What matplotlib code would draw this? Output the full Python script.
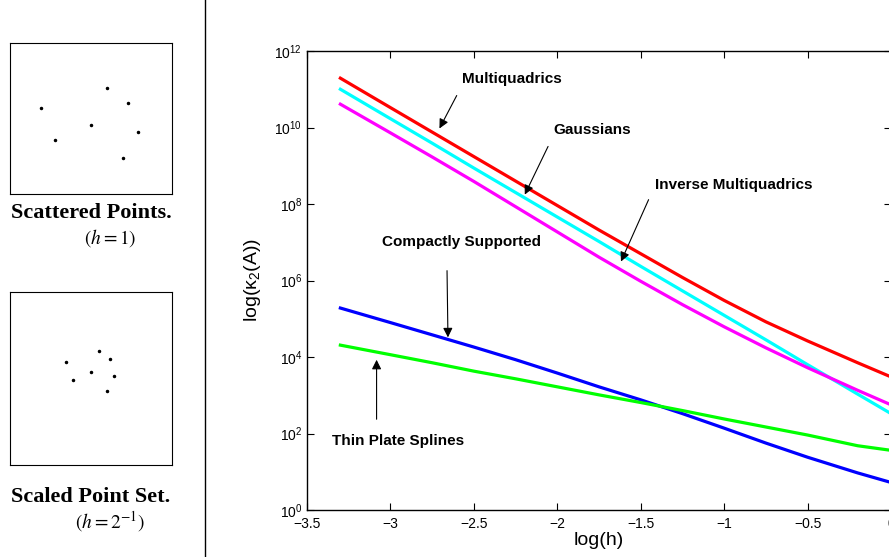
import numpy as np
import matplotlib
matplotlib.use('Agg')
import matplotlib.pyplot as plt
from matplotlib.lines import Line2D

plt.rcParams['font.family'] = ['Liberation Sans', 'DejaVu Sans']
plt.rcParams['mathtext.fontset'] = 'custom'
plt.rcParams['mathtext.rm'] = 'Liberation Sans'
plt.rcParams['mathtext.it'] = 'Liberation Sans:italic'

# log(h) sample positions and log10 of the condition numbers
log_h = [-3.3, -3.0, -2.75, -2.5, -2.25, -2.0, -1.75, -1.5, -1.25, -1.0, -0.75, -0.5, -0.2, 0.0]
mq = [11.29, 10.52, 9.88, 9.24, 8.60, 7.96, 7.32, 6.70, 6.08, 5.48, 4.92, 4.42, 3.85, 3.48]
gauss = [11.00, 10.23, 9.59, 8.94, 8.30, 7.66, 7.02, 6.37, 5.73, 5.09, 4.45, 3.80, 3.03, 2.52]
imq = [10.61, 9.86, 9.23, 8.59, 7.93, 7.27, 6.61, 5.98, 5.37, 4.79, 4.24, 3.72, 3.13, 2.75]
cs = [5.28, 4.90, 4.58, 4.26, 3.93, 3.58, 3.22, 2.88, 2.52, 2.14, 1.75, 1.38, 0.97, 0.72]
tps = [4.31, 4.06, 3.85, 3.63, 3.43, 3.22, 3.01, 2.81, 2.60, 2.38, 2.17, 1.96, 1.68, 1.56]

# point set shown in the small boxes (unit square, h = 1)
pts_x = [0.19, 0.28, 0.50, 0.60, 0.73, 0.79, 0.70]
pts_y = [0.57, 0.36, 0.46, 0.70, 0.60, 0.41, 0.24]

W, H = 889, 557
fig = plt.figure(figsize=(W / 100, H / 100), dpi=100)

def px_axes(l, t, r, b):
    return fig.add_axes([l / W, 1 - b / H, (r - l) / W, (b - t) / H])

# ---- left panel: point sets
for (t, b, scale, dy, cap1, cap2, cy) in [
        (43, 194, 1.0, 0.0, 'Scattered Points.', r'$(h = 1)$', 213),
        (292, 465, 0.5, 0.06, 'Scaled Point Set.', r'$(h = 2^{-1})$', 497)]:
    a = px_axes(10, t, 172, b)
    sx = 0.5 + (np.array(pts_x) - 0.5) * scale
    sy = 0.5 + (np.array(pts_y) - 0.5) * scale + dy
    a.plot(sx, sy, 'k.', ms=3)
    a.set_xlim(0, 1)
    a.set_ylim(0, 1)
    a.set_xticks([])
    a.set_yticks([])
    for s in a.spines.values():
        s.set_linewidth(0.8)
    fig.text(91 / W, 1 - cy / H, cap1, ha='center', va='center',
             family='Liberation Serif', weight='bold', fontsize=16)
    fig.text(110 / W, 1 - (cy + 25) / H, cap2, ha='center', va='center',
             fontsize=14, math_fontfamily='stix')

fig.add_artist(Line2D([205 / W, 205 / W], [0, 1], color='k', lw=1.0))

# ---- main plot
ax = px_axes(307, 51, 891, 510)
series = [(mq, 'red'), (gauss, 'cyan'), (imq, 'magenta'), (cs, 'blue'), (tps, 'lime')]
for vals, c in series:
    ax.semilogy(log_h, 10.0 ** np.array(vals), color=c, lw=2.3)

ax.set_xlim(-3.5, 0)
ax.set_ylim(1, 1e12)
ax.set_xticks([-3.5, -3, -2.5, -2, -1.5, -1, -0.5, 0])
ax.set_xticklabels(['\u22123.5', '\u22123', '\u22122.5', '\u22122', '\u22121.5',
                    '\u22121', '\u22120.5', '0'])
ax.set_yticks([10.0 ** k for k in range(0, 13, 2)])
ax.minorticks_off()
ax.tick_params(direction='in', top=True, right=True, length=5, width=0.8, labelsize=10)
ax.tick_params(axis='x', pad=5)
for s in ax.spines.values():
    s.set_linewidth(1.0)
ax.set_xlabel('log(h)', fontsize=14, labelpad=1)
ax.set_ylabel('log(\u03ba$_2$(A))', fontsize=14, labelpad=8)

lab = dict(fontsize=11, weight='bold', ha='center', va='center')
arr = dict(arrowstyle='-|>', color='k', lw=0.8, mutation_scale=14)

def note(text, tx, ty, x0, y0, x1, y1):
    ax.text(tx, 10 ** ty, text, **lab)
    ax.annotate('', xy=(x1, 10 ** y1), xytext=(x0, 10 ** y0), arrowprops=arr)

note('Multiquadrics', -2.274, 11.27, -2.595, 10.90, -2.714, 9.91)
note('Gaussians', -1.792, 9.93, -2.048, 9.57, -2.202, 8.18)
note('Inverse Multiquadrics', -0.940, 8.50, -1.446, 8.18, -1.625, 6.43)
note('Compactly Supported', -2.577, 7.01, -2.661, 6.33, -2.655, 4.44)
note('Thin Plate Splines', -2.952, 1.80, -3.083, 2.30, -3.083, 4.00)

fig.savefig('out.png', dpi=100)
